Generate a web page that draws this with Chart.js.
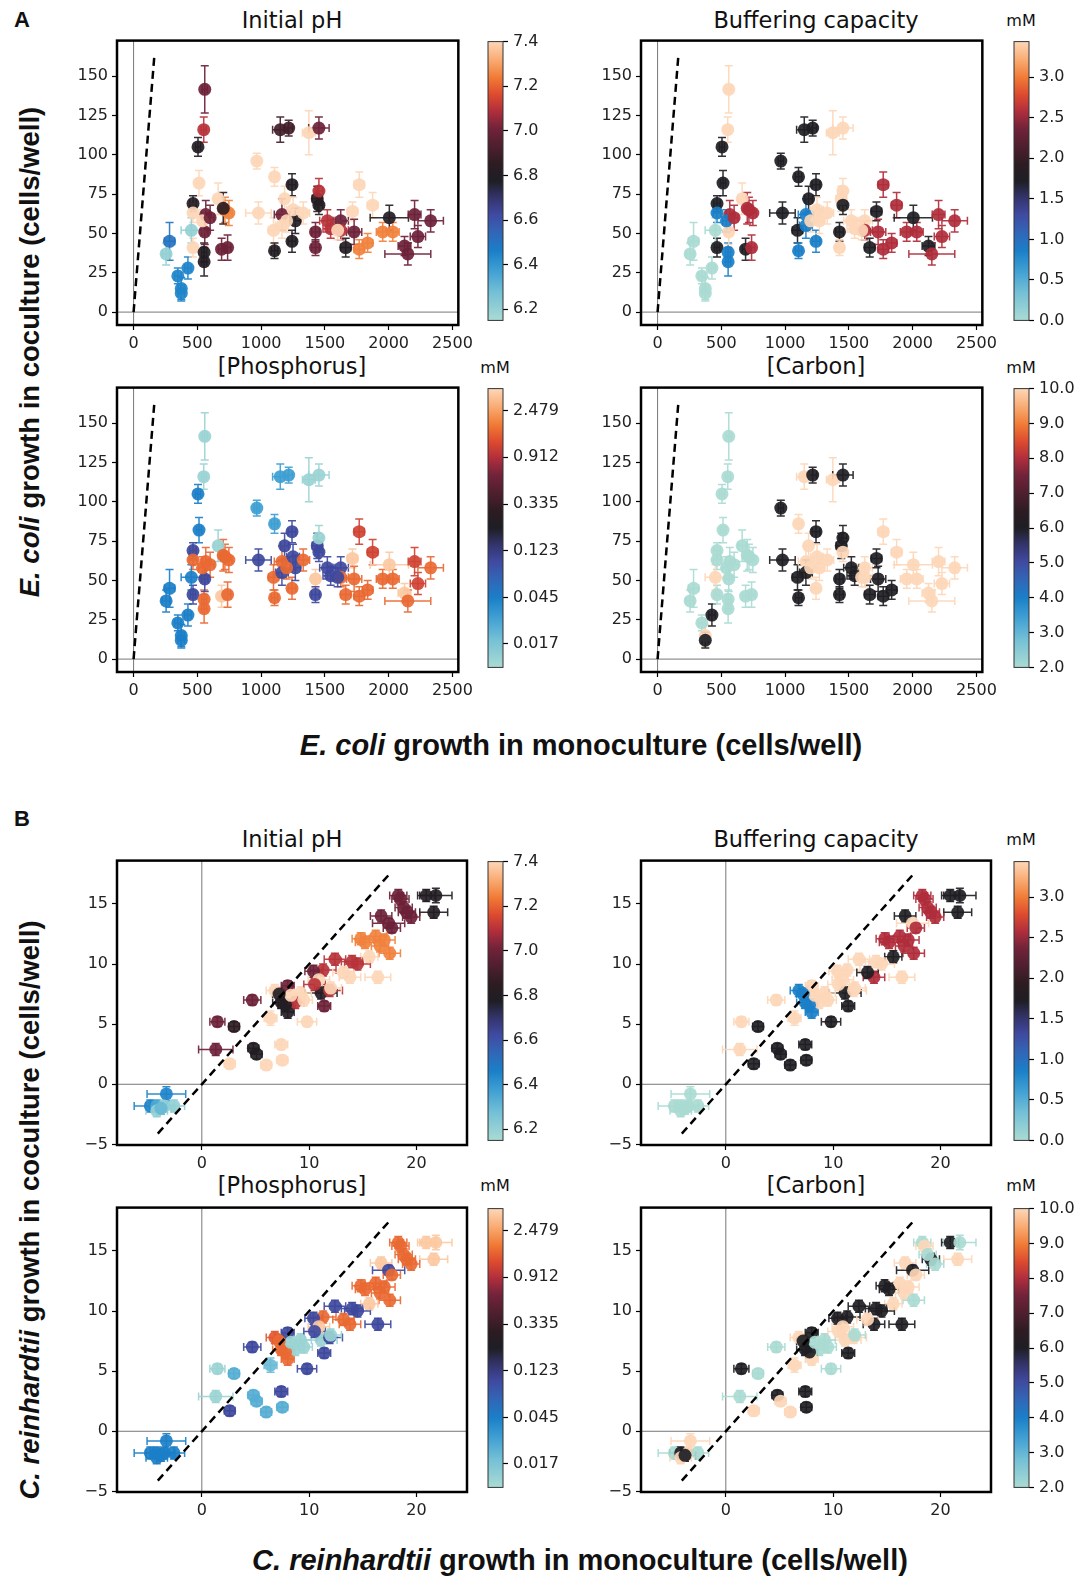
<!DOCTYPE html>
<html>
<head>
<meta charset="utf-8">
<script src="https://cdn.jsdelivr.net/npm/chart.js@4.4.1/dist/chart.umd.min.js"></script>
<style>
  body { margin: 0; background: #fff; width: 1078px; height: 1578px; position: relative; overflow: hidden; font-family: "DejaVu Sans", sans-serif; }
  canvas { position: absolute; }
  .t { position: absolute; transform: translate(-50%, -50%); white-space: nowrap; color: #111; }
  .title { font-size: 22.5px; }
  .unit { font-size: 16px; }
  .big { font-family: "Liberation Sans", Arial, sans-serif; font-weight: bold; font-size: 29px; }
  .rot { font-size: 27.5px; transform: translate(-50%, -50%) rotate(-90deg); }
  .letter { position: absolute; font-family: "Liberation Sans", Arial, sans-serif; font-weight: bold; font-size: 22px; color: #111; }
</style>
</head>
<body>
<div class="letter" style="left:14px;top:7px">A</div>
<div class="letter" style="left:14px;top:806px">B</div>

<div class="t title" style="left:292px;top:20px">Initial pH</div>
<div class="t title" style="left:816px;top:20px">Buffering capacity</div>
<div class="t title" style="left:292px;top:366px">[Phosphorus]</div>
<div class="t title" style="left:816px;top:366px">[Carbon]</div>
<div class="t title" style="left:292px;top:839px">Initial pH</div>
<div class="t title" style="left:816px;top:839px">Buffering capacity</div>
<div class="t title" style="left:292px;top:1185px">[Phosphorus]</div>
<div class="t title" style="left:816px;top:1185px">[Carbon]</div>

<div class="t unit" style="left:1021px;top:20px">mM</div>
<div class="t unit" style="left:495px;top:367px">mM</div>
<div class="t unit" style="left:1021px;top:367px">mM</div>
<div class="t unit" style="left:1021px;top:839px">mM</div>
<div class="t unit" style="left:495px;top:1185px">mM</div>
<div class="t unit" style="left:1021px;top:1185px">mM</div>

<div class="t big" style="left:581px;top:745px"><i>E. coli</i> growth in monoculture (cells/well)</div>
<div class="t big" style="left:580px;top:1560px"><i>C. reinhardtii</i> growth in monoculture (cells/well)</div>
<div class="t big rot" style="left:30px;top:352px"><i>E. coli</i> growth in coculture (cells/well)</div>
<div class="t big rot" style="left:30px;top:1210px"><i>C. reinhardtii</i> growth in coculture (cells/well)</div>

<script>
// E. coli: growth in monoculture vs coculture, with culture conditions per well
const ecoliMono = [558,550,505,513,466,466,566,663,716,747,703,282,255,347,426,374,374,466,553,553,453,558,690,737,966,1105,
  1150,1216,1374,1453,1242,1184,979,1097,1105,1242,1163,1268,1163,1440,1453,1453,1426,1426,1519,1545,1624,1663,1716,1729,1769,1835,
  1769,1874,2005,1953,2032,2203,2229,2124,2150,2329,1624,
  1200,1250,1330,540,600,1600];
const ecoliMonoErr = [20,20,20,20,25,30,30,30,30,25,25,40,30,25,25,25,25,20,20,20,80,25,25,25,20,25,
  60,30,50,80,30,30,100,40,25,30,60,40,50,40,30,30,30,30,60,60,60,40,40,60,40,40,
  40,40,150,50,50,50,60,50,180,100,60,
  40,50,50,30,30,40];
const ecoliCo = [141.6,116,105,82,69,63,62,72,65,63,66,45,37,23,28,15,12,41,38,32,52,51,40,41,96,86,
  116,117,114,117,81,72,63,52,39,45,62,58,55,72,68,77,51,41,58,53,58,41,64,51,40,44,
  81,68,60,51,51,62,48,42,37,58,52,
  58,65,63,58,60,52];
const ecoliCoErr = [15,8,6,8,5,6,9,10,8,8,10,12,7,5,7,7,5,6,6,9,8,8,7,8,5,6,
  8,5,14,7,7,8,7,8,5,7,10,8,8,8,6,8,6,5,7,6,7,6,6,8,6,6,
  8,8,8,6,6,9,7,6,7,7,6,
  7,8,7,7,8,6];
const ecoliPH = [7.0,7.1,6.8,7.4,6.8,7.4,7.0,7.4,7.25,7.25,6.85,6.5,6.2,6.45,6.45,6.45,6.45,7.4,6.8,6.8,6.2,7.0,7.0,7.0,7.4,7.4,
  6.9,6.9,7.4,7.0,6.8,7.4,7.4,7.4,6.8,6.8,7.0,6.8,7.4,6.85,6.8,7.1,7.0,7.0,7.1,7.1,7.0,6.8,7.4,7.0,7.25,7.25,
  7.4,7.4,6.8,7.25,7.25,7.0,7.0,7.0,7.0,7.0,7.1,
  7.4,7.4,7.4,7.4,7.0,7.4];
const ecoliBuffer = [3.44,3.44,1.72,1.72,1.72,0.86,2.58,3.44,2.58,2.58,2.58,0,0,0,0,0,0,1.72,0.86,0.86,0,3.44,1.72,2.58,1.72,1.72,
  1.72,1.72,3.44,3.44,1.72,1.72,1.72,1.72,0.86,0.86,0.86,3.44,0.86,3.44,1.72,3.44,1.72,3.44,3.44,3.44,3.44,1.72,1.72,2.58,2.58,2.58,
  2.58,2.58,1.72,2.58,2.58,2.58,2.58,1.72,2.58,2.58,2.58,
  3.44,3.44,3.44,0.86,2.58,3.44];
const ecoliPhosphorus = [0.012,0.012,0.045,0.045,0.1,1.6,1.6,0.012,1.6,1.6,1.6,0.045,0.045,0.045,0.045,0.045,0.045,0.1,1.6,1.6,0.045,0.1,3.5,1.6,0.03,0.03,
  0.03,0.03,0.012,0.012,0.1,0.1,0.1,1.6,1.6,1.6,1.6,0.1,0.1,0.1,0.1,0.012,3.5,0.1,0.1,0.1,0.1,1.6,3.5,1.6,1.6,1.6,
  1.15,1.15,3.5,1.6,1.6,1.15,1.15,3.5,1.6,1.6,1.6,
  1.6,0.1,1.6,1.6,1.6,0.1];
const ecoliCarbon = [2,2,2,2,2,2,2,2,2,2,2,2,2,2,6,10,6,2,2,2,10,2,2,2,6,10,
  10,6,10,6,6,10,6,6,6,10,10,10,6,6,10,6,6,6,6,6,10,6,6,6,6,6,
  10,10,10,10,10,10,10,10,10,10,10,
  10,10,10,2,2,10];

// C. reinhardtii: growth in monoculture vs coculture, same condition variables
const chlamyMono = [18.3,18.5,20.9,21.8,21.6,19.1,19.5,16.7,17.4,17.7,14.8,16.2,16.6,17.5,15.6,16.4,13.8,14.5,12.4,11.3,
  10.4,13.2,11.1,11.9,11.4,10.9,9.2,8.0,7.4,8.0,6.8,6.4,8.7,9.8,4.7,1.45,3.0,1.3,4.8,5.1,
  2.6,6.0,7.4,7.5,-3.3,-4.8,-4.2,-3.5,-2.6,-4.2,
  7.8,8.3,10.5,12.0,9.5,14.0,15.2,17.0,18.8,-3.8,7.2];
const chlamyMonoErr = [0.8,0.8,0.8,1.5,1.3,0.8,0.8,1.0,1.5,0.8,0.8,1.0,0.8,1.0,0.8,1.2,1.0,1.2,1.0,1.2,
  0.8,1.0,1.5,1.2,0.6,1.0,1.0,0.6,0.8,0.6,0.8,0.6,0.8,0.9,0.8,0.7,0.5,1.6,0.5,0.5,
  0.5,0.5,0.6,0.5,1.8,1.5,1.0,1.0,1.0,1.0,
  0.7,0.8,1.0,1.0,0.8,1.0,0.9,1.0,0.8,1.0,0.6];
const chlamyCo = [15.7,15.4,15.7,15.7,14.3,14.3,13.9,14.0,13.4,13.0,12.1,12.3,11.5,10.9,10.6,8.9,8.9,10.0,10.4,9.5,
  9.4,9.3,7.6,7.8,6.5,8.7,7.6,8.2,6.8,6.0,7.8,5.5,6.8,5.2,7.0,5.2,4.8,2.9,3.0,2.5,
  1.7,1.6,3.3,2.0,-0.8,-1.8,-1.8,-1.8,-1.8,-2.2,
  6.6,7.4,8.3,8.0,7.0,10.2,11.8,12.0,14.7,-2.0,7.5];
const chlamyCoErr = [0.5,0.5,0.5,0.6,0.5,0.5,0.5,0.5,0.4,0.4,0.5,0.5,0.5,0.5,0.5,0.5,0.5,0.5,0.5,0.5,
  0.5,0.5,0.5,0.5,0.4,0.5,0.5,0.4,0.5,0.5,0.5,0.6,0.5,0.4,0.4,0.4,0.4,0.5,0.4,0.4,
  0.4,0.4,0.4,0.4,0.6,0.5,0.5,0.5,0.5,0.5,
  0.5,0.5,0.5,0.5,0.5,0.5,0.5,0.5,0.5,0.5,0.5];
const chlamyPH = [7.0,7.0,6.8,6.8,6.8,7.0,7.0,7.0,7.0,7.0,7.25,7.25,7.25,7.25,7.4,7.4,7.4,7.1,7.1,7.1,
  7.0,7.4,6.8,7.1,7.0,7.4,7.4,7.0,6.8,6.8,7.4,7.4,7.1,7.4,7.0,7.0,6.85,7.0,6.8,6.8,
  7.4,7.4,7.4,7.4,6.45,6.45,6.35,6.2,6.2,6.2,
  6.8,7.4,7.1,7.4,7.4,7.1,7.25,7.25,7.0,6.3,6.8];
const chlamyBuffer = [2.58,2.58,1.72,1.72,1.72,2.58,2.58,1.72,3.44,2.58,2.58,2.58,2.58,2.58,1.72,3.44,2.58,3.44,3.44,3.44,
  3.44,1.72,1.72,3.44,1.72,3.44,3.44,3.44,0.86,0.86,0.86,3.44,3.44,1.72,3.44,3.44,1.72,3.44,1.72,1.72,
  1.72,1.72,1.72,1.72,0,0,0,0,0,0,
  0.86,3.44,3.44,3.44,3.44,3.44,2.58,2.58,2.58,0,0.86];
const chlamyPhosphorus = [1.6,1.6,3.5,3.5,3.5,1.6,1.6,3.5,0.1,1.6,1.6,1.6,1.6,1.6,3.5,0.1,1.6,0.1,0.1,1.6,
  0.1,1.6,0.012,0.1,0.1,3.5,0.012,0.1,1.6,1.6,1.4,0.02,0.012,0.1,0.1,0.012,0.024,0.012,0.024,0.024,
  0.1,0.024,0.1,0.024,0.045,0.045,0.045,0.045,0.045,0.045,
  1.6,0.012,0.1,0.012,0.012,0.1,1.6,1.6,1.6,0.045,1.6];
const chlamyCarbon = [2,10,6,2,10,6,2,10,6,10,6,10,10,2,10,6,6,6,6,6,
  6,10,10,10,6,10,2,6,6,10,10,10,2,2,2,6,2,2,6,10,
  10,10,6,6,10,2,6,10,2,10,
  6,2,10,2,2,6,6,10,2,6,6];

// axis ticks
const ecoliXTicks = [0, 500, 1000, 1500, 2000, 2500];
const ecoliYTicks = [0, 25, 50, 75, 100, 125, 150];
const chlamyXTicks = [0, 10, 20];
const chlamyYTicks = [-5, 0, 5, 10, 15];

// colorbar ticks
const phTicks = [6.2, 6.4, 6.6, 6.8, 7.0, 7.2, 7.4];
const bufferTicks = [0, 0.5, 1.0, 1.5, 2.0, 2.5, 3.0];
const phosphorusTicks = ['0.017', '0.045', '0.123', '0.335', '0.912', '2.479'];
const carbonTicks = [2, 3, 4, 5, 6, 7, 8, 9, 10];

// diverging light-cyan / blue / black / red / peach map
const icefireStops = [
  [0.00, '#aadbd3'], [0.10, '#74c0d6'], [0.18, '#3f9fd3'], [0.25, '#1a7fc8'],
  [0.32, '#3364b6'], [0.38, '#3f4aa0'], [0.44, '#34346c'], [0.50, '#1e1e24'],
  [0.56, '#2c1c22'], [0.62, '#4c1f2e'], [0.69, '#72233a'], [0.75, '#b02e3c'],
  [0.81, '#dd4b2f'], [0.87, '#f07a35'], [0.93, '#f9a86e'], [1.00, '#fdd7b8']
];

function hexRgb(h) {
  return [parseInt(h.slice(1, 3), 16), parseInt(h.slice(3, 5), 16), parseInt(h.slice(5, 7), 16)];
}

function icefire(f, alpha) {
  f = Math.max(0, Math.min(1, f));
  for (let i = 1; i < icefireStops.length; i++) {
    if (f <= icefireStops[i][0]) {
      const [p0, c0] = icefireStops[i - 1];
      const [p1, c1] = icefireStops[i];
      const t = (f - p0) / (p1 - p0);
      const a = hexRgb(c0), b = hexRgb(c1);
      const c = a.map((v, k) => Math.round(v + (b[k] - v) * t));
      return `rgba(${c[0]},${c[1]},${c[2]},${alpha})`;
    }
  }
}

const colorVars = {
  ph: { min: 6.15, max: 7.4, log: false, ticks: phTicks, fmt: v => v.toFixed(1) },
  buffer: { min: 0, max: 3.44, log: false, ticks: bufferTicks, fmt: v => v.toFixed(1) },
  phosphorus: { min: 0.0102, max: 3.96, log: true, ticks: phosphorusTicks.map(parseFloat), fmt: (v, i) => phosphorusTicks[i] },
  carbon: { min: 2, max: 10, log: false, ticks: carbonTicks, fmt: v => v.toFixed(1) }
};

function fraction(cv, v) {
  if (cv.log) return (Math.log(v) - Math.log(cv.min)) / (Math.log(cv.max) - Math.log(cv.min));
  return (v - cv.min) / (cv.max - cv.min);
}

const minus = v => (v < 0 ? '\u2212' + Math.abs(v) : String(v));

// error bars drawn just under the markers of the scatter dataset
const errorBars = {
  id: 'errorBars',
  beforeDatasetDraw(chart, args) {
    const ds = chart.data.datasets[args.index];
    if (!ds.xErr) return;
    const xs = chart.scales.x, ys = chart.scales.y, ctx = chart.ctx;
    const cap = 4;
    ctx.save();
    ctx.lineWidth = 1.5;
    ds.data.forEach((p, i) => {
      const px = xs.getPixelForValue(p.x), py = ys.getPixelForValue(p.y);
      const x0 = xs.getPixelForValue(p.x - ds.xErr[i]), x1 = xs.getPixelForValue(p.x + ds.xErr[i]);
      const y0 = ys.getPixelForValue(p.y - ds.yErr[i]), y1 = ys.getPixelForValue(p.y + ds.yErr[i]);
      ctx.strokeStyle = ds.pointBackgroundColor[i];
      ctx.beginPath();
      ctx.moveTo(x0, py); ctx.lineTo(x1, py);
      ctx.moveTo(px, y0); ctx.lineTo(px, y1);
      ctx.moveTo(x0, py - cap); ctx.lineTo(x0, py + cap);
      ctx.moveTo(x1, py - cap); ctx.lineTo(x1, py + cap);
      ctx.moveTo(px - cap, y0); ctx.lineTo(px + cap, y0);
      ctx.moveTo(px - cap, y1); ctx.lineTo(px + cap, y1);
      ctx.stroke();
    });
    ctx.restore();
  }
};

const frame = {
  id: 'frame',
  afterDraw(chart, args, opts) {
    const { left, top, right, bottom } = chart.chartArea;
    const ctx = chart.ctx;
    ctx.save();
    ctx.lineWidth = opts.width;
    ctx.strokeStyle = opts.color;
    ctx.strokeRect(left, top, right - left, bottom - top);
    ctx.restore();
  }
};

const gradientFill = {
  id: 'gradientFill',
  beforeDraw(chart, args, opts) {
    if (!opts.on) return;
    const { left, top, right, bottom } = chart.chartArea;
    const ctx = chart.ctx;
    const g = ctx.createLinearGradient(0, bottom, 0, top);
    icefireStops.forEach(([p, c]) => g.addColorStop(p, c));
    ctx.save();
    ctx.fillStyle = g;
    ctx.fillRect(left, top, right - left, bottom - top);
    ctx.restore();
  }
};

const tickFont = { family: 'DejaVu Sans', size: 16 };
const boxCols = [117, 641], cbCols = [488, 1014];
const boxRows = [37, 384, 857, 1204];
const boxW = 350, boxH = 288, cbW = 15;

function addCanvas(left, top, w, h) {
  const c = document.createElement('canvas');
  c.width = w; c.height = h;
  c.style.left = left + 'px'; c.style.top = top + 'px';
  c.style.width = w + 'px'; c.style.height = h + 'px';
  document.body.appendChild(c);
  return c.getContext('2d');
}

function axis(min, max, ticks, fitKey, fitSize) {
  return {
    type: 'linear', min, max,
    afterBuildTicks: s => { s.ticks = ticks.map(v => ({ value: v })); },
    afterFit: s => { s[fitKey] = fitSize; },
    ticks: { font: tickFont, color: '#222', padding: 4, maxRotation: 0, autoSkip: false, callback: v => minus(v) },
    grid: { display: true, drawOnChartArea: false, drawTicks: true, tickLength: 5, tickColor: '#000', tickWidth: 1.2 },
    border: { display: false }
  };
}

function drawPanel(col, row, g, cv, values) {
  const left = boxCols[col], top = boxRows[row];
  const W = 60 + boxW + 10, H = 10 + boxH + 30;
  const ctx = addCanvas(left - 60, top - 10, W, H);
  const colors = values.map(v => icefire(fraction(cv, v), 0.92));
  new Chart(ctx, {
    type: 'scatter',
    data: {
      datasets: [
        { type: 'line', data: [{ x: 0, y: g.ylo }, { x: 0, y: g.yhi }], borderColor: '#777', borderWidth: 1, pointRadius: 0, order: 3 },
        { type: 'line', data: [{ x: g.xlo, y: 0 }, { x: g.xhi, y: 0 }], borderColor: '#777', borderWidth: 1, pointRadius: 0, order: 3 },
        {
          data: g.mono.map((x, i) => ({ x, y: g.co[i] })),
          xErr: g.monoErr, yErr: g.coErr,
          pointBackgroundColor: colors, pointBorderColor: colors, pointBorderWidth: 0,
          pointRadius: 6.5, order: 1
        },
        { type: 'line', data: g.identity.map(v => ({ x: v, y: v })), borderColor: '#000', borderWidth: 2.5, borderDash: [8, 5], pointRadius: 0, order: 0 }
      ]
    },
    options: {
      responsive: false, animation: false, devicePixelRatio: 1, events: [],
      layout: { padding: { left: 0, top: 10, right: 10, bottom: 0 } },
      scales: {
        x: axis(g.xlo, g.xhi, g.xTicks, 'height', 30),
        y: axis(g.ylo, g.yhi, g.yTicks, 'width', 60)
      },
      plugins: { legend: { display: false }, tooltip: { enabled: false }, frame: { width: 2.5, color: '#000' } }
    },
    plugins: [errorBars, frame]
  });

  // colorbar
  const cctx = addCanvas(cbCols[col] - 5, top - 10, 5 + cbW + 60, 10 + boxH + 10);
  new Chart(cctx, {
    type: 'scatter',
    data: { datasets: [] },
    options: {
      responsive: false, animation: false, devicePixelRatio: 1, events: [],
      layout: { padding: { left: 5, top: 10, right: 0, bottom: 10 } },
      scales: {
        x: { display: false, min: 0, max: 1 },
        y: {
          type: cv.log ? 'logarithmic' : 'linear', position: 'right', min: cv.min, max: cv.max,
          afterBuildTicks: s => { s.ticks = cv.ticks.map(v => ({ value: v })); },
          afterFit: s => { s.width = 60; },
          ticks: { font: tickFont, color: '#222', padding: 5, autoSkip: false, callback: (v, i) => cv.fmt(v, i) },
          grid: { display: true, drawOnChartArea: false, drawTicks: true, tickLength: 5, tickColor: '#000', tickWidth: 1.2 },
          border: { display: false }
        }
      },
      plugins: { legend: { display: false }, tooltip: { enabled: false }, frame: { width: 1, color: '#333' }, gradientFill: { on: true } }
    },
    plugins: [gradientFill, frame]
  });
}

const ecoli = {
  mono: ecoliMono, monoErr: ecoliMonoErr, co: ecoliCo, coErr: ecoliCoErr,
  xlo: -130, xhi: 2546, ylo: -8.2, yhi: 172.6, identity: [0, 164],
  xTicks: ecoliXTicks, yTicks: ecoliYTicks
};
const chlamy = {
  mono: chlamyMono, monoErr: chlamyMonoErr, co: chlamyCo, coErr: chlamyCoErr,
  xlo: -7.9, xhi: 24.7, ylo: -5.05, yhi: 18.6, identity: [-4.1, 17.5],
  xTicks: chlamyXTicks, yTicks: chlamyYTicks
};

drawPanel(0, 0, ecoli, colorVars.ph, ecoliPH);
drawPanel(1, 0, ecoli, colorVars.buffer, ecoliBuffer);
drawPanel(0, 1, ecoli, colorVars.phosphorus, ecoliPhosphorus);
drawPanel(1, 1, ecoli, colorVars.carbon, ecoliCarbon);
drawPanel(0, 2, chlamy, colorVars.ph, chlamyPH);
drawPanel(1, 2, chlamy, colorVars.buffer, chlamyBuffer);
drawPanel(0, 3, chlamy, colorVars.phosphorus, chlamyPhosphorus);
drawPanel(1, 3, chlamy, colorVars.carbon, chlamyCarbon);
</script>
</body>
</html>
